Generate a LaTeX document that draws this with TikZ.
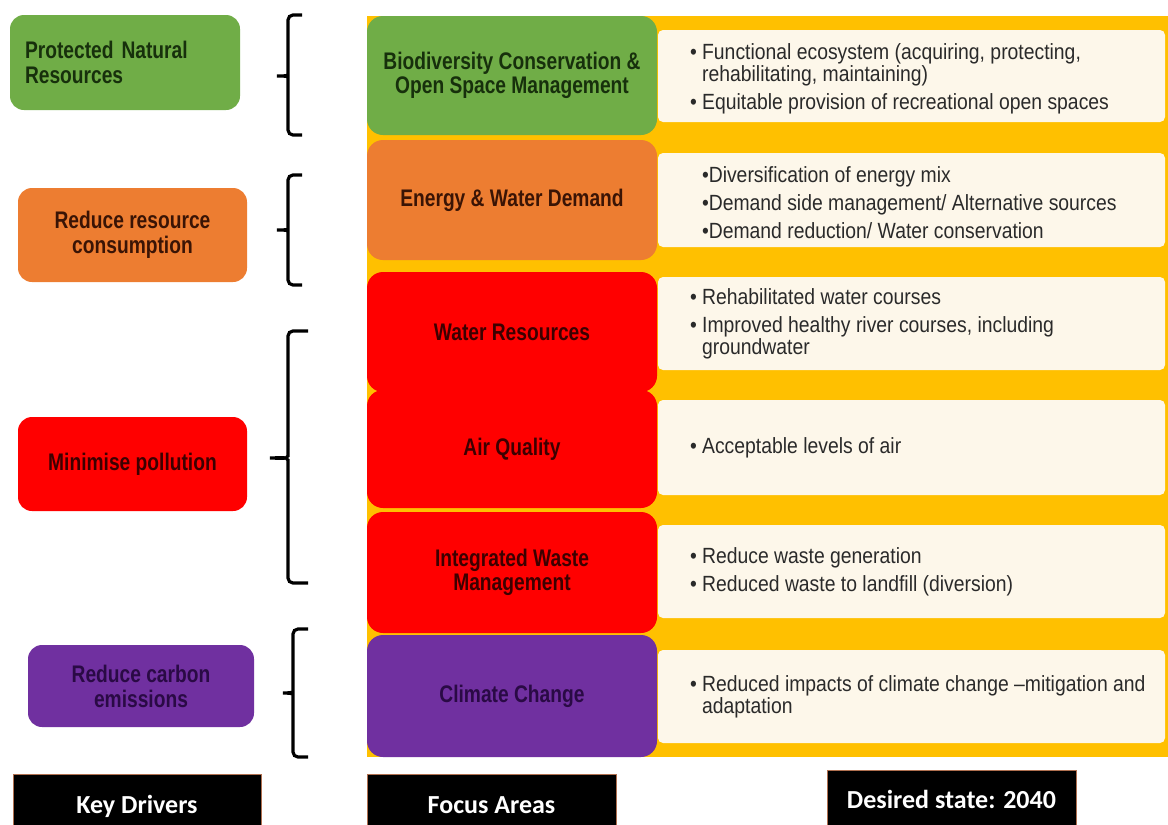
\documentclass[tikz,border=0pt]{standalone}
\usepackage{fontspec}
\setmainfont{Liberation Sans}
\newfontfamily\bulletfont[FakeStretch=0.88]{Liberation Sans}
\newfontfamily\boldnarrow[FakeStretch=0.80]{Liberation Sans}
\newfontfamily\tagfont{Carlito}
\usetikzlibrary{positioning}

\definecolor{bgyellow}{HTML}{FFC000}
\definecolor{creamrow}{HTML}{FDF7EA}
\definecolor{drvgreen}{HTML}{70AD47}
\definecolor{drvorange}{HTML}{ED7D31}
\definecolor{drvred}{HTML}{FF0000}
\definecolor{drvpurple}{HTML}{7030A0}
\definecolor{txtgreen}{HTML}{17300C}
\definecolor{txtorange}{HTML}{3A1405}
\definecolor{txtred}{HTML}{3C0000}
\definecolor{txtpurple}{HTML}{2A0A45}
\definecolor{txtgrey}{HTML}{2A2A2A}
\definecolor{tagedge}{HTML}{B07050}

\begin{document}
\begin{tikzpicture}[x=1pt, y=-1pt,
  every node/.style={inner sep=0pt, outer sep=0pt},
  driver/.style={rounded corners=14pt, anchor=north west, align=center,
    minimum width=229pt, minimum height=94pt,
    font=\boldnarrow\bfseries\fontsize{24}{25}\selectfont},
  focus/.style={rounded corners=16pt, anchor=north west, align=center,
    minimum width=290pt, minimum height=119pt,
    font=\boldnarrow\bfseries\fontsize{24}{24}\selectfont},
  staterow/.style={fill=creamrow, rounded corners=5pt, anchor=north west,
    minimum width=507pt},
  statetext/.style={anchor=west, align=left, text=txtgrey,
    font=\bulletfont\fontsize{22}{22}\selectfont},
  tag/.style={fill=black, draw=tagedge, line width=0.8pt, anchor=north west,
    minimum width=249pt, text=white, font=\tagfont\bfseries\fontsize{26}{28}\selectfont},
  bracket line/.style={line width=3.2pt, rounded corners=5pt}]
\useasboundingbox (0,0) rectangle (1168,825);

% yellow band behind focus areas and desired state
\fill[bgyellow] (367,16) rectangle (1168,757);

% desired state rows
\node[staterow, minimum height=92pt] (row1) at (658,30) {};
\node[staterow, minimum height=94pt] (row2) at (658,153) {};
\node[staterow, minimum height=93pt] (row3) at (658,277) {};
\node[staterow, minimum height=95pt] (row4) at (658,400) {};
\node[staterow, minimum height=93pt] (row5) at (658,525) {};
\node[staterow, minimum height=93pt] (row6) at (658,650) {};

\node[statetext] (txt1) at ([xshift=32pt,yshift=-3pt]row1.west)
  {• Functional ecosystem (acquiring, protecting,\\\phantom{• }rehabilitating, maintaining)\\[6pt]• Equitable provision of recreational open spaces};
\node[statetext] (txt2) at ([xshift=44pt,yshift=-3pt]row2.west)
  {•Diversification of energy mix\\[6pt]•Demand side management/ Alternative sources\\[6pt]•Demand reduction/ Water conservation};
\node[statetext] (txt3) at ([xshift=32pt]row3.west)
  {• Rehabilitated water courses\\[6pt]• Improved healthy river courses, including\\\phantom{• }groundwater};
\node[statetext] (txt4) at ([xshift=32pt]row4.west) {• Acceptable levels of air};
\node[statetext] (txt5) at ([xshift=32pt]row5.west)
  {• Reduce waste generation\\[6pt]• Reduced waste to landfill (diversion)};
\node[statetext] (txt6) at ([xshift=32pt]row6.west)
  {• Reduced impacts of climate change –mitigation and\\\phantom{• }adaptation};

% focus areas
\node[focus, fill=drvgreen, text=txtgreen] (biodiv) at (367,16) {Biodiversity Conservation \&\\Open Space Management};
\node[focus, fill=drvorange, text=txtorange, minimum height=120pt] (energy) at (367,140) {Energy \& Water Demand};
\node[focus, fill=drvred, text=txtred, minimum height=120pt] (water) at (367,272) {Water Resources};
\node[focus, fill=drvred, text=txtred, minimum height=118pt] (air) at (367,390) {Air Quality};
\node[focus, fill=drvred, text=txtred, minimum height=121pt] (waste) at (367,512) {Integrated Waste\\Management};
\node[focus, fill=drvpurple, text=txtpurple, minimum height=122pt] (climate) at (367,635) {Climate Change};

% key drivers
\node[driver, fill=drvgreen, text=txtgreen, minimum width=230pt, minimum height=95pt,
  align=left, text width=200pt, inner xsep=15pt] (protect) at (10,15) {Protected Natural\\Resources};
\node[driver, fill=drvorange, text=txtorange] (reduce) at (18,188) {Reduce resource\\consumption};
\node[driver, fill=drvred, text=txtred] (minimise) at (18,417) {Minimise pollution};
\node[driver, fill=drvpurple, text=txtpurple, minimum width=226pt, minimum height=82pt] (carbon) at (28,645) {Reduce carbon\\emissions};

% braces
\draw[bracket line] (302,15) -- (288,15) -- (288,70) to[out=-90,in=0] (274,76)
  to[out=0,in=90] (288,82) -- (288,135) -- (302,135);
\draw[bracket line] (302,175) -- (288,175) -- (288,224) to[out=-90,in=0] (274,230)
  to[out=0,in=90] (288,236) -- (288,285) -- (302,285);
\draw[bracket line] (308,331) -- (288,331) -- (288,451) to[out=-90,in=0] (267,458)
  to[out=0,in=90] (288,465) -- (288,583) -- (308,583);
\draw[bracket line] (308,629) -- (293,629) -- (293,687) to[out=-90,in=0] (280,693)
  to[out=0,in=90] (293,699) -- (293,757) -- (308,757);

% column tags
\node[tag, minimum width=248pt, minimum height=52pt] (kd) at (13,774) {\raisebox{-13pt}[0pt][0pt]{Key Drivers}};
\node[tag, minimum height=52pt] (fa) at (367,774) {\raisebox{-13pt}[0pt][0pt]{Focus Areas}};
\node[tag, minimum height=56pt] (ds) at (827,770) {\raisebox{-10pt}[0pt][0pt]{Desired state: 2040}};
\end{tikzpicture}
\end{document}
